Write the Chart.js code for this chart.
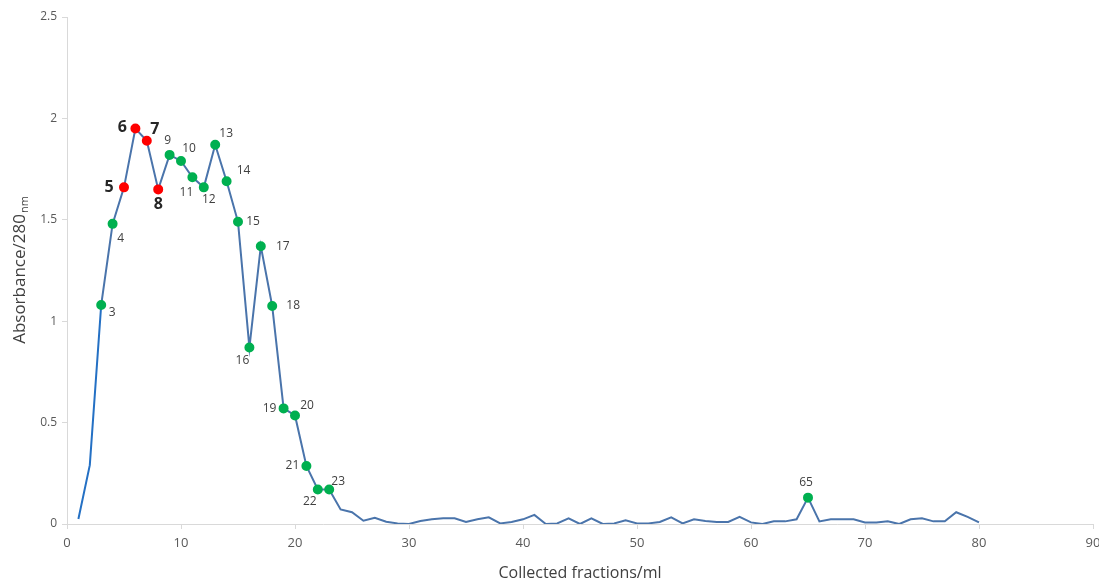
<!DOCTYPE html>
<html>
<head>
<meta charset="utf-8">
<script src="https://cdn.jsdelivr.net/npm/chart.js@4/dist/chart.umd.min.js"></script>
<style>
html,body{margin:0;padding:0;background:#fff;}
#wrap{width:1099px;height:583px;}
</style>
</head>
<body>
<div id="wrap"><canvas id="c" width="1099" height="583"></canvas></div>
<script>
const fractions = [1,2,3,4,5,6,7,8,9,10,11,12,13,14,15,16,17,18,19,20,21,22,23,24,25,26,27,28,29,30,31,32,33,34,35,36,37,38,39,40,41,42,43,44,45,46,47,48,49,50,51,52,53,54,55,56,57,58,59,60,61,62,63,64,65,66,67,68,69,70,71,72,73,74,75,76,77,78,79,80];
const absorbance = [0.025,0.29,1.08,1.48,1.66,1.95,1.89,1.65,1.82,1.79,1.71,1.66,1.87,1.69,1.49,0.87,1.37,1.075,0.57,0.535,0.286,0.17,0.17,0.072,0.058,0.016,0.031,0.011,0.003,0.0,0.015,0.023,0.028,0.028,0.01,0.023,0.033,0.003,0.01,0.023,0.045,0.0,0.003,0.028,0.0,0.028,0.0,0.003,0.018,0.003,0.003,0.01,0.033,0.003,0.023,0.015,0.01,0.01,0.035,0.008,0.0,0.013,0.013,0.023,0.13,0.013,0.023,0.023,0.023,0.008,0.008,0.013,0.0,0.023,0.028,0.013,0.013,0.058,0.035,0.008];
const markedGreen = [3,4,9,10,11,12,13,14,15,16,17,18,19,20,21,22,23,65];
const markedRed = [5,6,7,8];
const yTicks = [0,0.5,1,1.5,2,2.5];
const xTicks = [0,10,20,30,40,50,60,70,80,90];
const xTitle = 'Collected fractions/ml';
const yTitleMain = 'Absorbance/280';
const yTitleSub = 'nm';

// label placement (style only)
const labelOffsets = {
  3:[11,8],4:[8,15],5:[-15,0],6:[-13,-1],7:[8,-11],8:[0,15],9:[-2,-14],10:[8,-12],
  11:[-6,15],12:[5,12],13:[11,-11],14:[17,-11],15:[15,0],16:[-7,13],17:[22,0],
  18:[21,0],19:[-14,0],20:[12,-10],21:[-14,0],22:[-8,12],23:[9,-8],65:[-2,-15]
};

const pts = fractions.map((f,i)=>({x:f,y:absorbance[i]}));
const pColor = fractions.map(f => markedRed.includes(f) ? '#ff0000' : (markedGreen.includes(f) ? '#00b050' : 'rgba(0,0,0,0)'));
const pRadius = fractions.map(f => (markedRed.includes(f)||markedGreen.includes(f)) ? 4 : 0);

const labelPlugin = {
  id:'pointLabels',
  afterDatasetsDraw(chart){
    const ctx = chart.ctx;
    const meta = chart.getDatasetMeta(0);
    ctx.save();
    ctx.textAlign='center';
    ctx.textBaseline='middle';
    fractions.forEach((f,i)=>{
      const isRed = markedRed.includes(f);
      const isGreen = markedGreen.includes(f);
      if(!isRed && !isGreen) return;
      const el = meta.data[i];
      const off = labelOffsets[f] || [0,-12];
      if(isRed){
        ctx.font = 'bold 16px "Open Sans", sans-serif';
        ctx.fillStyle = '#262626';
      } else {
        ctx.font = '12px "Open Sans", sans-serif';
        ctx.fillStyle = '#404040';
      }
      ctx.fillText(String(f), el.x+off[0], el.y+off[1]);
    });
    ctx.restore();
  }
};

const yTitlePlugin = {
  id:'yTitle',
  afterDraw(chart){
    const ctx = chart.ctx;
    const area = chart.chartArea;
    ctx.save();
    ctx.translate(20, (area.top+area.bottom)/2);
    ctx.rotate(-Math.PI/2);
    ctx.fillStyle = '#404040';
    ctx.font = '17px "Open Sans", sans-serif';
    const w1 = ctx.measureText(yTitleMain).width;
    ctx.font = '11px "Open Sans", sans-serif';
    const w2 = ctx.measureText(yTitleSub).width;
    const start = -(w1+w2)/2;
    ctx.textBaseline='middle';
    ctx.textAlign='left';
    ctx.font = '17px "Open Sans", sans-serif';
    ctx.fillText(yTitleMain, start, 0);
    ctx.font = '11px "Open Sans", sans-serif';
    ctx.fillText(yTitleSub, start+w1+1, 5);
    ctx.restore();
  }
};

new Chart(document.getElementById('c'), {
  type:'line',
  data:{ datasets:[{
    data: pts,
    borderColor:'#4a74ab',
    borderWidth:2,
    pointBackgroundColor:pColor,
    pointBorderColor:pColor,
    pointRadius:pRadius,
    pointHoverRadius:pRadius,
    tension:0,
    segment:{ borderColor: ctx => ctx.p0.parsed.x < 3 ? '#2470c4' : undefined }
  }]},
  options:{
    responsive:false,
    animation:false,
    events:[],
    layout:{ padding:{ top:17, right:6, left:0, bottom:0 } },
    plugins:{ legend:{display:false}, tooltip:{enabled:false} },
    scales:{
      x:{
        type:'linear', min:0, max:90,
        afterBuildTicks: s => { s.ticks = xTicks.map(v=>({value:v})); },
        afterFit: s => { s.height = 59; s.paddingRight = 0; s.paddingLeft = 0; },
        grid:{ drawOnChartArea:false, drawTicks:true, tickLength:5, color:'#d9d9d9' },
        border:{ color:'#d9d9d9', width:1 },
        ticks:{ color:'#595959', font:{ family:'"Liberation Sans Narrow", "Open Sans", sans-serif', size:13 }, padding:6, maxRotation:0 },
        title:{ display:true, text:xTitle, color:'#404040', font:{ family:'"Open Sans", sans-serif', size:16 }, padding:{top:2,bottom:0} }
      },
      y:{
        type:'linear', min:0, max:2.5,
        afterBuildTicks: s => { s.ticks = yTicks.map(v=>({value:v})); },
        afterFit: s => { s.width = 67; s.paddingTop = 0; s.paddingBottom = 0; },
        grid:{ drawOnChartArea:false, drawTicks:true, tickLength:5, color:'#d9d9d9' },
        border:{ color:'#d9d9d9', width:1 },
        ticks:{ color:'#595959', font:{ family:'"Open Sans", sans-serif', size:12 }, padding:5, callback: v => String(v) }
      }
    }
  },
  plugins:[labelPlugin, yTitlePlugin]
});
</script>
</body>
</html>
